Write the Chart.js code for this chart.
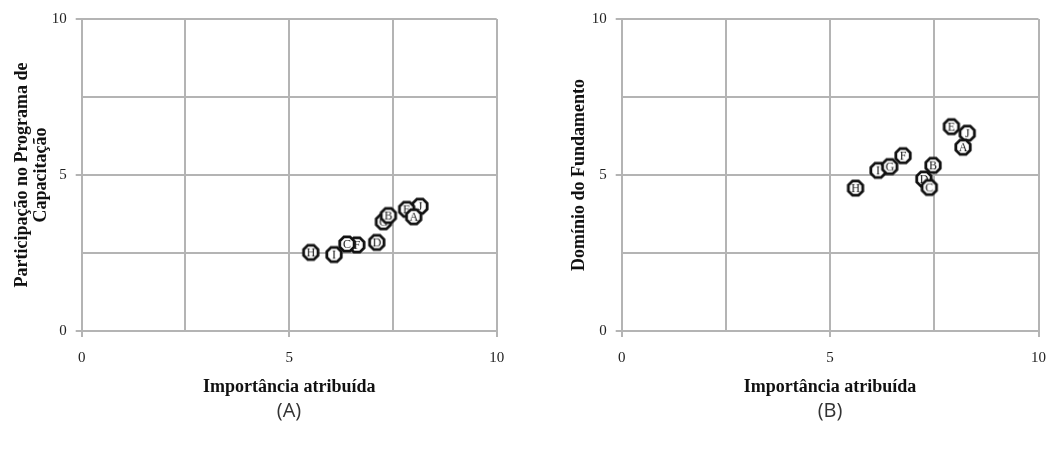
<!DOCTYPE html>
<html lang="pt">
<head>
<meta charset="utf-8">
<title>Importância atribuída x Participação / Domínio</title>
<script src="https://cdn.jsdelivr.net/npm/chart.js@4.4.1/dist/chart.umd.min.js"></script>
<style>
  html, body { margin: 0; padding: 0; background: #fff; }
  #wrap { position: relative; width: 1058px; height: 450px; overflow: hidden; }
  .panel { position: absolute; top: 0; width: 529px; height: 400px; }
  #panelA { left: 0; }
  #panelB { left: 529px; }
  .caption {
    position: absolute; top: 396px; width: 80px; text-align: center;
    font-family: "Open Sans", sans-serif; font-size: 20px; color: #333;
  }
  #capA { left: 249px; }
  #capB { left: 790px; }
</style>
</head>
<body>
<div id="wrap">
  <div class="panel" id="panelA"><canvas id="chartA" width="529" height="400"></canvas></div>
  <div class="panel" id="panelB"><canvas id="chartB" width="529" height="400"></canvas></div>
  <div class="caption" id="capA">(A)</div>
  <div class="caption" id="capB">(B)</div>
</div>

<script>
// Fundamentos (letters), drawn in this order so the later ones sit on top
const labelsA = ['J', 'I', 'H', 'G', 'F', 'E', 'D', 'C', 'B', 'A'];
const importanciaA = [8.15, 6.08, 5.52, 7.27, 6.63, 7.83, 7.11, 6.39, 7.39, 8.00];
const participacao = [4.00, 2.45, 2.52, 3.50, 2.76, 3.90, 2.84, 2.79, 3.70, 3.66];

const labelsB = ['J', 'I', 'H', 'G', 'F', 'E', 'D', 'C', 'B', 'A'];
const importanciaB = [8.29, 6.15, 5.61, 6.43, 6.75, 7.91, 7.25, 7.38, 7.47, 8.19];
const dominio = [6.34, 5.15, 4.58, 5.27, 5.62, 6.55, 4.87, 4.60, 5.31, 5.89];

// axis ticks: grid every 2.5, numbers only on these
const tickLabels = [0, 5, 10];

const GRID = '#b4b4b4';
const SERIF = '"Liberation Serif", "Times New Roman", serif';

/**
 * Octagon marker with the letter inside, used as the point style
 */
function makeMarker(letter) {
  const c = document.createElement('canvas');
  c.width = 22;
  c.height = 22;
  const ctx = c.getContext('2d');
  const r = 7.8;
  ctx.beginPath();
  for (let i = 0; i < 8; i++) {
    const a = Math.PI / 8 + i * Math.PI / 4;
    const px = 11 + r * Math.cos(a);
    const py = 11 + r * Math.sin(a);
    if (i === 0) ctx.moveTo(px, py); else ctx.lineTo(px, py);
  }
  ctx.closePath();
  ctx.fillStyle = '#fff';
  ctx.fill();
  ctx.lineWidth = 2.8;
  ctx.strokeStyle = '#111';
  ctx.stroke();
  ctx.fillStyle = '#111';
  ctx.font = '12px ' + SERIF;
  ctx.textAlign = 'center';
  ctx.textBaseline = 'middle';
  ctx.fillText(letter, 11, 11.5);
  return c;
}

function tickText(value) {
  return tickLabels.includes(value) ? String(value) : '';
}

function tickMarkColor(context) {
  return context.tick && tickLabels.includes(context.tick.value) ? GRID : 'rgba(0,0,0,0)';
}

/**
 * Build one scatter panel
 */
function buildChart(canvasId, letters, xs, ys, yTitle, opts) {
  const points = xs.map((x, i) => ({ x: x, y: ys[i] }));

  return new Chart(document.getElementById(canvasId), {
    type: 'scatter',
    data: {
      datasets: [{
        data: points,
        pointStyle: letters.map(makeMarker),
        pointRadius: 9,
        pointHoverRadius: 9
      }]
    },
    options: {
      responsive: false,
      animation: false,
      events: [],
      layout: { padding: { top: 19, right: opts.padRight, left: 0, bottom: 0 } },
      plugins: { legend: { display: false }, tooltip: { enabled: false } },
      scales: {
        x: {
          type: 'linear',
          min: 0,
          max: 10,
          afterFit: (scale) => { scale.height = 69; },
          ticks: {
            stepSize: 2.5,
            autoSkip: false,
            maxRotation: 0,
            padding: 12,
            color: '#222',
            font: { family: SERIF, size: 15 },
            callback: tickText
          },
          grid: { color: GRID, lineWidth: 2, tickLength: 6, tickColor: tickMarkColor },
          border: { color: GRID, width: 2 },
          title: {
            display: true,
            text: 'Importância atribuída',
            color: '#111',
            font: { family: SERIF, size: 18, weight: 'bold', lineHeight: 1 },
            padding: { top: 0, bottom: 4 }
          }
        },
        y: {
          type: 'linear',
          min: 0,
          max: 10,
          afterFit: (scale) => { scale.width = opts.yWidth; },
          ticks: {
            stepSize: 2.5,
            autoSkip: false,
            padding: 9,
            color: '#222',
            font: { family: SERIF, size: 15 },
            callback: tickText
          },
          grid: { color: GRID, lineWidth: 2, tickLength: 6, tickColor: tickMarkColor },
          border: { color: GRID, width: 2 },
          title: {
            display: true,
            text: yTitle,
            color: '#111',
            font: { family: SERIF, size: 18, weight: 'bold', lineHeight: 1.1 },
            padding: { top: opts.titlePad, bottom: 0 }
          }
        }
      }
    }
  });
}

buildChart('chartA', labelsA, importanciaA, participacao,
  ['Participação no Programa de', 'Capacitação'],
  { yWidth: 81.7, padRight: 32.3, titlePad: 12 });

buildChart('chartB', labelsB, importanciaB, dominio,
  'Domínio do Fundamento',
  { yWidth: 92.7, padRight: 19.3, titlePad: 40 });
</script>
</body>
</html>
